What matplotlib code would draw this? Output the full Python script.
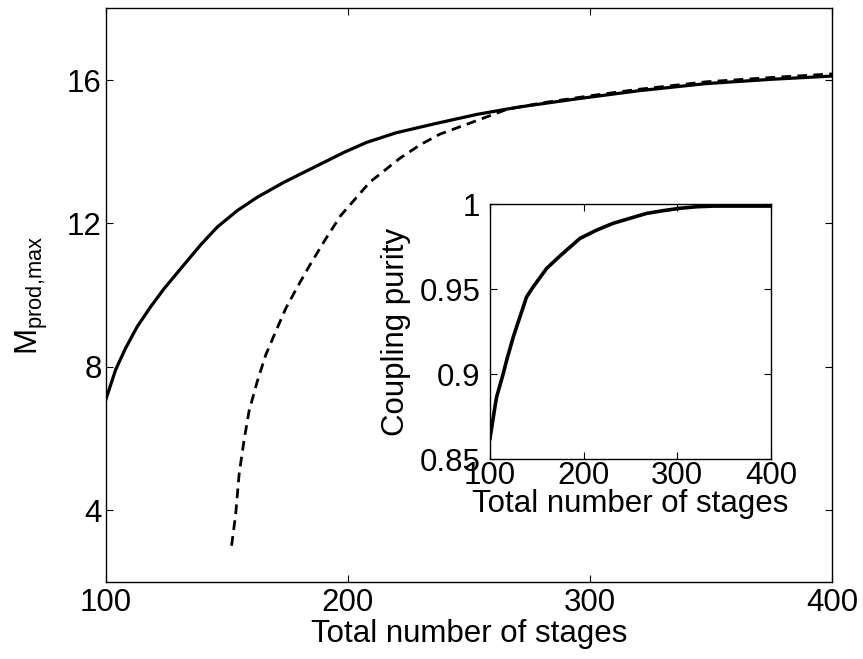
import matplotlib
matplotlib.use("Agg")
import matplotlib.pyplot as plt

plt.rcParams['font.family'] = ['Liberation Sans', 'DejaVu Sans']
plt.rcParams['lines.scale_dashes'] = False

# Main plot: solid curve
stages_solid = [100, 104.0, 108.1, 112.9, 118.5, 124.0, 130.9, 139.1, 146.0, 154.3, 162.5,
                173.6, 184.6, 198.3, 207.7, 220, 235.2, 253.2, 270, 293, 320, 348, 375, 400]
mprod_solid = [7.10, 7.92, 8.52, 9.12, 9.68, 10.18, 10.74, 11.40, 11.90, 12.36, 12.73,
               13.15, 13.52, 13.98, 14.26, 14.53, 14.77, 15.04, 15.24, 15.46, 15.70, 15.90, 16.02, 16.11]

# Main plot: dashed curve
stages_dashed = [151.9, 153.6, 155.0, 157.0, 159.1, 162.5, 166.0, 170.1, 174.3, 179.1, 184.6,
                 190.8, 197.0, 209, 221.5, 230, 238, 254.5, 265.6, 280, 300, 320, 348, 375, 400]
mprod_dashed = [3.01, 3.89, 5.00, 5.93, 6.76, 7.59, 8.33, 8.98, 9.63, 10.23, 10.88,
                11.57, 12.22, 13.15, 13.82, 14.20, 14.49, 14.90, 15.18, 15.36, 15.56, 15.74, 15.95, 16.07, 16.17]

# Inset: coupling purity vs total number of stages
stages_inset = [100, 105.3, 107.1, 114.2, 117.8, 124.9, 132.0, 139.1, 146.2, 160.5, 174.7,
                196, 213.9, 231.6, 249.4, 267.2, 285, 302.8, 320.6, 338.4, 370, 400]
purity_inset = [0.8623, 0.881, 0.8868, 0.9005, 0.9083, 0.922, 0.9338, 0.9455, 0.9514, 0.9622, 0.9695,
                0.9798, 0.9847, 0.9887, 0.9916, 0.9945, 0.9961, 0.9975, 0.9984, 0.9988, 0.9988, 0.9988]

FS = 22.5

fig = plt.figure(figsize=(8.63, 6.59), dpi=100)
ax = fig.add_axes([0.1228, 0.1169, 0.9641 - 0.1228, 0.9874 - 0.1169])
ax.plot(stages_solid, mprod_solid, color='black', lw=2.3, solid_joinstyle='round')
ax.plot(stages_dashed, mprod_dashed, color='black', lw=2.0, dashes=(7, 4.5))
ax.set_xlim(100, 400)
ax.set_ylim(2, 18)
ax.set_xticks([100, 200, 300, 400])
ax.set_yticks([4, 8, 12, 16])
ax.tick_params(direction='in', length=5, width=0.8, labelsize=FS, top=True, right=True, pad=4)
ax.tick_params(axis='y', pad=3)
for s in ax.spines.values():
    s.set_linewidth(1.0)
ax.set_xlabel('Total number of stages', fontsize=FS, labelpad=1)
ax.set_ylabel(r'M$_{\mathregular{prod{,}max}}$', fontsize=FS, labelpad=12)

ins = fig.add_axes([0.5678, 0.303, 0.8934 - 0.5678, 0.6904 - 0.303])
ins.plot(stages_inset, purity_inset, color='black', lw=2.6, solid_joinstyle='round')
ins.set_xlim(100, 400)
ins.set_ylim(0.85, 1.0)
ins.set_xticks([100, 200, 300, 400])
ins.set_yticks([0.85, 0.9, 0.95, 1.0])
ins.set_yticklabels(['0.85', '0.9', '0.95', '1'])
ins.tick_params(direction='in', length=5, width=0.8, labelsize=FS, top=True, right=True, pad=1)
ins.tick_params(axis='y', pad=7)
for s in ins.spines.values():
    s.set_linewidth(1.0)
ins.set_xlabel('Total number of stages', fontsize=FS, labelpad=-1)
ins.set_ylabel('Coupling purity', fontsize=FS, labelpad=6)

fig.savefig('out.png', dpi=100)
